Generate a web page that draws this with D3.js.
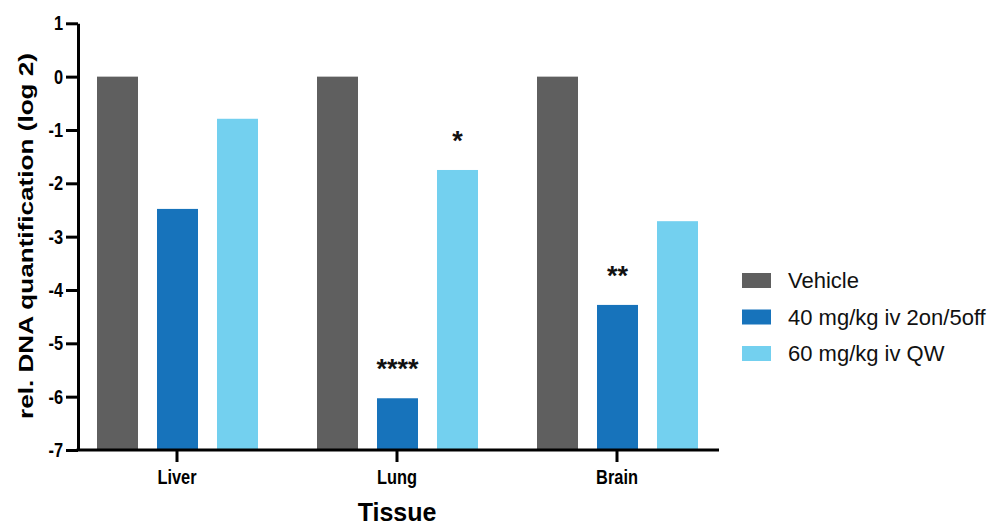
<!DOCTYPE html>
<html>
<head>
<meta charset="utf-8">
<script src="https://cdn.jsdelivr.net/npm/d3@7/dist/d3.min.js"></script>
<style>
  html, body { margin: 0; padding: 0; background: #fff; }
  svg { display: block; font-family: "Liberation Sans", Arial, sans-serif; }
</style>
</head>
<body>
<svg id="chart" width="993" height="527"></svg>
<script>
// Tissues on the x axis
const categories = ["Liver", "Lung", "Brain"];
// Treatment groups
const series = ["Vehicle", "40 mg/kg iv 2on/5off", "60 mg/kg iv QW"];
// rel. DNA quantification (log 2), one array per treatment, ordered as categories
const vehicle = [0, 0, 0];
const dose40 = [-2.48, -6.03, -4.28];
const dose60 = [-0.79, -1.75, -2.71];
// Significance marks per treatment and tissue
const sigVehicle = ["", "", ""];
const sig40 = ["", "****", "**"];
const sig60 = ["", "*", ""];
const yTicks = [1, 0, -1, -2, -3, -4, -5, -6, -7];
const colors = ["#5f5f5f", "#1773bb", "#73d0ef"];

const values = [vehicle, dose40, dose60];
const sigs = [sigVehicle, sig40, sig60];
const rows = [];
series.forEach((s, si) => {
  categories.forEach((c, ci) => {
    rows.push({ series: s, cat: c, value: values[si][ci], sig: sigs[si][ci], color: colors[si] });
  });
});

// Tick labels use a condensed bold face (horizontal squeeze)
const squeeze = 0.82;
const svg = d3.select("#chart");
const axisX = 78;

const y = d3.scaleLinear().domain([-7, 1]).range([450, 23.3]);
const x = d3.scaleBand().domain(categories).range([67, 727]).padding(0);
const xi = d3.scaleBand().domain(series).range([20.5, 200.5])
  .paddingInner(0.3167).paddingOuter(0.1583);

// Bars rise from the bottom of the axis (-7)
svg.append("g").selectAll("rect")
  .data(rows)
  .join("rect")
  .attr("x", d => x(d.cat) + xi(d.series))
  .attr("width", xi.bandwidth())
  .attr("y", d => y(d.value))
  .attr("height", d => y(-7) - y(d.value))
  .attr("fill", d => d.color);

// Significance asterisks
svg.append("g").selectAll("text")
  .data(rows.filter(d => d.sig))
  .join("text")
  .attr("x", d => x(d.cat) + xi(d.series) + xi.bandwidth() / 2)
  .attr("y", d => y(d.value) - 20)
  .attr("text-anchor", "middle")
  .attr("font-size", 27)
  .attr("font-weight", "bold")
  .attr("fill", "#111")
  .text(d => d.sig);

// Y axis
const yAxis = svg.append("g")
  .attr("transform", `translate(${axisX},0)`)
  .call(d3.axisLeft(y).tickValues(yTicks).tickSize(12).tickSizeOuter(0).tickPadding(3).tickFormat(d3.format("d")));
yAxis.select(".domain").attr("stroke", "#000").attr("stroke-width", 3);
yAxis.selectAll(".tick line").attr("stroke", "#000").attr("stroke-width", 3);
yAxis.selectAll(".tick text")
  .attr("font-size", 20).attr("font-weight", "bold").attr("fill", "#000")
  .attr("font-family", "'Liberation Sans', Arial, sans-serif")
  .attr("x", -15 / squeeze)
  .attr("transform", `scale(${squeeze},1)`)
  .text(d => d < 0 ? "-" + Math.abs(d) : d);

// X axis
const xAxis = svg.append("g")
  .attr("transform", `translate(0,${y(-7)})`)
  .call(d3.axisBottom(x).tickSize(12).tickPadding(8));
xAxis.select(".domain").remove();
xAxis.selectAll(".tick line").attr("stroke", "#000").attr("stroke-width", 3);
xAxis.selectAll(".tick text")
  .attr("font-size", 20).attr("font-weight", "bold").attr("fill", "#000")
  .attr("font-family", "'Liberation Sans', Arial, sans-serif")
  .attr("transform", `scale(${squeeze},1)`);
svg.append("line")
  .attr("x1", axisX - 1.5).attr("x2", x.range()[1] - 8)
  .attr("y1", y(-7)).attr("y2", y(-7))
  .attr("stroke", "#000").attr("stroke-width", 3);

// Axis titles
svg.append("text")
  .attr("transform", "translate(33,236) rotate(-90)")
  .attr("text-anchor", "middle")
  .attr("font-size", 21).attr("font-weight", "bold")
  .attr("textLength", 366).attr("lengthAdjust", "spacingAndGlyphs")
  .text("rel. DNA quantification (log 2)");

svg.append("text")
  .attr("x", x("Lung") + x.bandwidth() / 2)
  .attr("y", 521)
  .attr("text-anchor", "middle")
  .attr("font-size", 25).attr("font-weight", "bold")
  .text("Tissue");

// Legend
const legend = svg.append("g").attr("transform", "translate(742,273)");
const item = legend.selectAll("g")
  .data(series)
  .join("g")
  .attr("transform", (d, i) => `translate(0,${i * 36.5})`);
item.append("rect").attr("width", 29).attr("height", 15).attr("fill", (d, i) => colors[i]);
item.append("text").attr("x", 46).attr("y", 15)
  .attr("font-size", 22).attr("fill", "#111").text(d => d);
</script>
</body>
</html>
